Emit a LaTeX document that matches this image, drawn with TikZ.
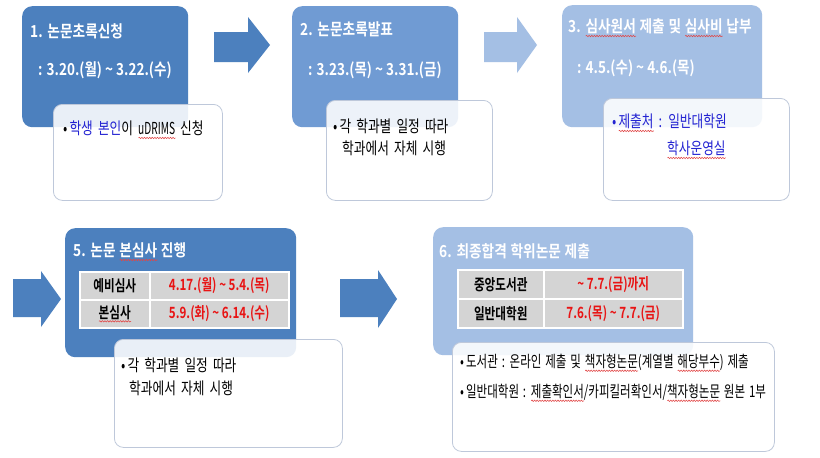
\documentclass[tikz,border=0pt]{standalone}
\usepackage{fontspec}
\usetikzlibrary{decorations.pathmorphing}
\setmainfont{Noto Sans CJK KR}
\newfontfamily\ttl{Noto Sans CJK KR Bold}[FakeStretch=0.83, WordSpace=1.2]
\newfontfamily\dte{Noto Sans CJK KR Bold}[FakeStretch=0.82]
\newfontfamily\bdy{Noto Sans CJK KR}[FakeStretch=0.77, WordSpace=1.8]
\newfontfamily\bdys{Noto Sans CJK KR}[FakeStretch=0.72, WordSpace=1.5]
\newfontfamily\tbl{Noto Sans CJK KR Bold}[FakeStretch=0.75]
\definecolor{cA}{RGB}{76,128,190}
\definecolor{cB}{RGB}{112,155,211}
\definecolor{cC}{RGB}{164,191,228}
\definecolor{wline}{RGB}{190,200,218}
\definecolor{cellgray}{RGB}{212,212,212}
\definecolor{kblue}{RGB}{35,35,210}
\definecolor{kred}{RGB}{232,20,20}
\definecolor{squig}{RGB}{225,70,70}
\newsavebox\sqbox
\newcommand\sqg[1]{\sbox\sqbox{#1}\rlap{\tikz[baseline=0pt]{\draw[squig, line width=0.55pt, decorate, decoration={snake, amplitude=0.7pt, segment length=2.6pt}] (0pt,-3.2pt) -- (\the\wd\sqbox,-3.2pt);}}\usebox\sqbox}
\begin{document}
\begin{tikzpicture}[x=1pt,y=1pt,
  bbox/.style={rounded corners=10pt, inner sep=0pt, anchor=north west},
  wbox/.style={draw=wline, line width=0.8pt, fill=white, fill opacity=0.88, text opacity=1, rounded corners=9pt, anchor=north west, inner sep=0pt},
  txt/.style={anchor=west, inner sep=0pt},
  ttxt/.style={txt, text=white, font=\ttl\fontsize{16.5}{19}\selectfont},
  dtxt/.style={txt, text=white, font=\dte\fontsize{16.5}{19}\selectfont},
  btxt/.style={txt, font=\bdy\fontsize{16.5}{19}\selectfont},
  stxt/.style={txt, font=\bdys\fontsize{16}{19}\selectfont},
  cell/.style={draw=white, line width=1.5pt, fill=cellgray, inner sep=0pt, anchor=north west, font=\tbl\fontsize{15.5}{18}\selectfont}
]
\fill[white] (0,0) rectangle (820,-458);
\useasboundingbox (0,0) rectangle (820,-458);

% block arrows
\fill[cA] (214,-32) -- (248,-32) -- (248,-17) -- (270,-45) -- (248,-73) -- (248,-62) -- (214,-62) -- cycle;
\fill[cC] (484,-32) -- (517,-32) -- (517,-17) -- (537,-45) -- (517,-73) -- (517,-62) -- (484,-62) -- cycle;
\fill[cA] (13,-279) -- (41,-279) -- (41,-271) -- (61,-299) -- (41,-327) -- (41,-317) -- (13,-317) -- cycle;
\fill[cA] (340,-279) -- (378,-279) -- (378,-270) -- (397,-299) -- (378,-328) -- (378,-317) -- (340,-317) -- cycle;

% step 1
\node[bbox, fill=cA, minimum width=166pt, minimum height=121pt] (b1) at (22,-6) {};
\node[ttxt] (t1) at (30,-31) {1. 논문초록신청};
\node[dtxt] (d1) at (38,-70) {: 3.20.(월) \textasciitilde{} 3.22.(수)};
\node[wbox, minimum width=169pt, minimum height=96pt] (w1) at (53,-104) {};
\node[btxt] (n1) at (63,-130) {•\hspace{2pt}\textcolor{kblue}{학생 본인}이 \sqg{\scalebox{0.8}[1]{uDRIMS}} 신청};

% step 2
\node[bbox, fill=cB, minimum width=166pt, minimum height=121pt] (b2) at (292,-6) {};
\node[ttxt] (t2) at (300,-29) {2. 논문초록발표};
\node[dtxt] (d2) at (308,-70) {: 3.23.(목) \textasciitilde{} 3.31.(금)};
\node[wbox, minimum width=166pt, minimum height=100pt] (w2) at (326,-100) {};
\node[btxt] (n2a) at (333,-126) {•\hspace{2pt}각 학과별 일정 따라};
\node[btxt] (n2b) at (342,-148) {학과에서 자체 시행};

% step 3
\node[bbox, fill=cC, minimum width=200pt, minimum height=122pt] (b3) at (562,-5) {};
\node[ttxt] (t3) at (568,-28) {3. \sqg{심사원서} 제출 및 \sqg{심사비} 납부};
\node[dtxt] (d3) at (577,-68) {: 4.5.(수) \textasciitilde{} 4.6.(목)};
\node[wbox, minimum width=186pt, minimum height=102pt] (w3) at (603,-98) {};
\node[btxt, text=kblue] (n3a) at (612,-123) {•\hspace{2pt}\sqg{제출처} : 일반대학원};
\node[btxt, text=kblue] (n3b) at (667,-150) {\sqg{학사운영실}};

% step 5
\node[bbox, fill=cA, minimum width=231pt, minimum height=129pt] (b5) at (65,-228) {};
\node[ttxt] (t5) at (73,-252) {5. 논문 \sqg{본심사} 진행};
\node[cell, minimum width=70pt, minimum height=28pt] (c5a) at (79,-271) {예비심사};
\node[cell, minimum width=139pt, minimum height=28pt, text=kred] (c5b) at (149,-271) {4.17.(월) \textasciitilde{} 5.4.(목)};
\node[cell, minimum width=70pt, minimum height=28pt] (c5c) at (79,-299) {\sqg{본심사}};
\node[cell, minimum width=139pt, minimum height=28pt, text=kred] (c5d) at (149,-299) {5.9.(화) \textasciitilde{} 6.14.(수)};
\node[wbox, minimum width=228pt, minimum height=108pt] (w5) at (114,-339) {};
\node[btxt] (n5a) at (121,-365) {•\hspace{2pt}각 학과별 일정 따라};
\node[btxt] (n5b) at (129,-388) {학과에서 자체 시행};

% step 6
\node[bbox, fill=cC, minimum width=260pt, minimum height=128pt] (b6) at (433,-227) {};
\node[ttxt] (t6) at (439,-251) {6. 최종합격 학위논문 제출};
\node[cell, minimum width=86pt, minimum height=29pt] (c6a) at (457,-269) {중앙도서관};
\node[cell, minimum width=139pt, minimum height=29pt, text=kred] (c6b) at (543,-269) {\textasciitilde{} 7.7.(금)까지};
\node[cell, minimum width=86pt, minimum height=29pt] (c6c) at (457,-298) {일반대학원};
\node[cell, minimum width=139pt, minimum height=29pt, text=kred] (c6d) at (543,-298) {7.6.(목) \textasciitilde{} 7.7.(금)};
\node[wbox, minimum width=322pt, minimum height=109pt] (w6) at (452,-342) {};
\node[stxt] (n6a) at (460,-363) {•\hspace{2pt}도서관 : 온라인 제출 및 \sqg{책자형논문}(계열별 \sqg{해당부수}) 제출};
\node[stxt] (n6b) at (460,-393) {•\hspace{2pt}일반대학원 : \sqg{제출확인서}/카피킬러확인서/\sqg{책자형논문} 원본 1부};
\end{tikzpicture}
\end{document}
